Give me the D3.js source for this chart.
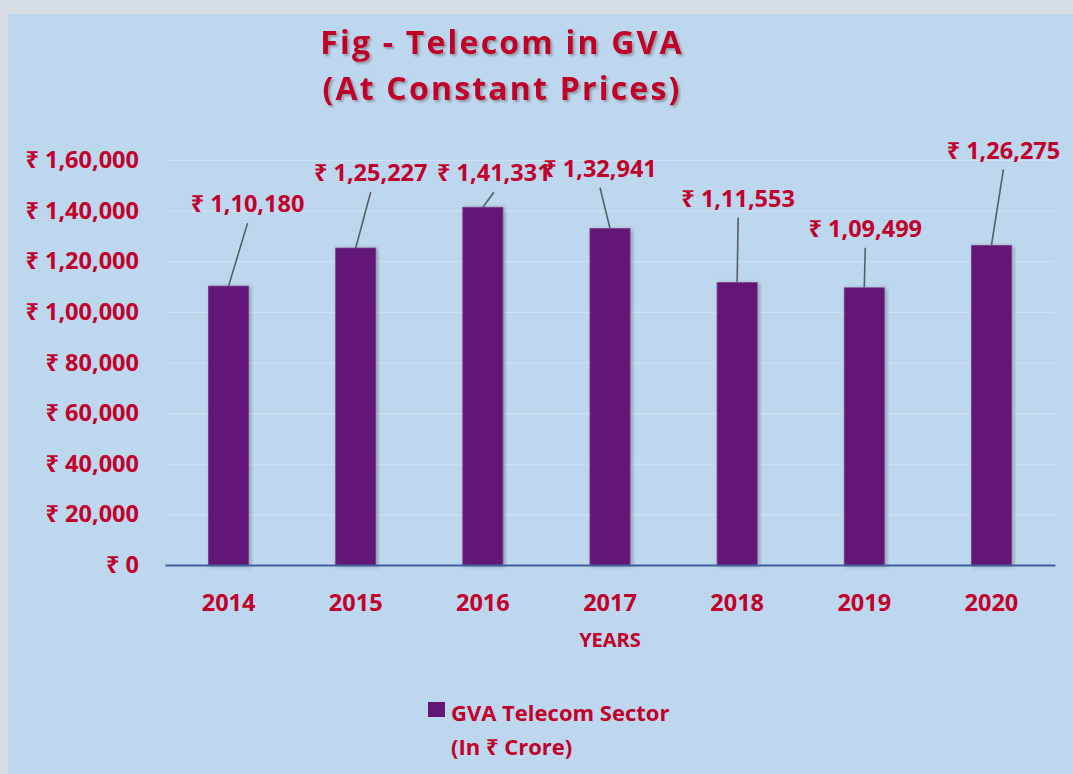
<!DOCTYPE html>
<html>
<head>
<meta charset="utf-8">
<script src="https://cdn.jsdelivr.net/npm/d3@7"></script>
<style>
  body { margin: 0; background: #d6dde5; }
  svg text { font-family: "Open Sans", "Noto Sans", "DejaVu Sans", sans-serif; font-weight: bold; }
</style>
</head>
<body>
<div id="chart"></div>
<script>
// data
var years = ["2014", "2015", "2016", "2017", "2018", "2019", "2020"];
var gva = [110180, 125227, 141331, 132941, 111553, 109499, 126275];
var yTicks = [0, 20000, 40000, 60000, 80000, 100000, 120000, 140000, 160000];

// where each callout label sits relative to its bar top (px)
var labelOffsets = [[19, -82], [15, -75], [11, -34], [-10, -60], [1, -84], [1, -59], [12, -95]];

var svgWidth = 1073;
var svgHeight = 774;
var red = "#c1002b";

var margin = { top: 160, bottom: 209, left: 165, right: 18 };
var width = svgWidth - margin.left - margin.right;
var height = svgHeight - margin.top - margin.bottom;

function inr(n) {
    var s = String(n);
    if (s.length > 3) {
        var rest = s.slice(0, -3);
        s = rest.replace(/\B(?=(\d{2})+(?!\d))/g, ",") + "," + s.slice(-3);
    }
    return "\u20B9 " + s;
}

var svg = d3.select("#chart")
    .append("svg")
    .attr("width", svgWidth)
    .attr("height", svgHeight);

var defs = svg.append("defs");
defs.append("filter").attr("id", "tshadow")
    .append("feDropShadow")
    .attr("dx", 2).attr("dy", 2).attr("stdDeviation", 1.2)
    .attr("flood-color", "#555").attr("flood-opacity", 0.45);
defs.append("filter").attr("id", "bshadow")
    .append("feDropShadow")
    .attr("dx", 2).attr("dy", 1).attr("stdDeviation", 2)
    .attr("flood-color", "#333").attr("flood-opacity", 0.35);

// panel
svg.append("rect")
    .attr("x", 8).attr("y", 14)
    .attr("width", svgWidth - 8).attr("height", svgHeight - 14)
    .attr("fill", "#bdd7ee");

// title
var title = svg.append("text")
    .attr("text-anchor", "middle")
    .attr("fill", red)
    .attr("font-size", "32px")
    .attr("letter-spacing", "2.2px")
    .attr("filter", "url(#tshadow)");
title.append("tspan").attr("x", 502).attr("y", 54).text("Fig - Telecom in GVA");
title.append("tspan").attr("x", 502).attr("y", 100).text("(At Constant Prices)");

var chartGroup = svg.append("g")
    .attr("transform", `translate(${margin.left}, ${margin.top})`);

// scales
var xScale = d3.scaleBand()
    .domain(years)
    .range([0, width])
    .paddingInner(0.685)
    .paddingOuter(0.3425);

var yScale = d3.scaleLinear()
    .domain([0, 160000])
    .range([height, 0]);

// gridlines
chartGroup.append("g")
    .call(d3.axisLeft(yScale).tickValues(yTicks.slice(1)).tickSize(-width).tickFormat(""))
    .call(g => g.select(".domain").remove())
    .selectAll("line")
    .attr("stroke", "#cde1f3")
    .attr("stroke-width", 1.2);

// y axis labels
chartGroup.append("g")
    .call(d3.axisLeft(yScale).tickValues(yTicks).tickSize(0).tickPadding(26).tickFormat(inr))
    .call(g => g.select(".domain").remove())
    .selectAll("text")
    .attr("fill", red)
    .attr("font-size", "23.5px")
    .attr("font-family", null);

// bars
chartGroup.selectAll("rect.bar")
    .data(gva)
    .enter()
    .append("rect")
    .attr("class", "bar")
    .attr("x", (d, i) => xScale(years[i]))
    .attr("y", d => yScale(d))
    .attr("width", xScale.bandwidth())
    .attr("height", d => height - yScale(d))
    .attr("fill", "#621775")
    .attr("stroke", "#7a3a8c")
    .attr("stroke-width", 0.8)
    .attr("filter", "url(#bshadow)");

// x axis
chartGroup.append("g")
    .attr("transform", `translate(0, ${height})`)
    .call(d3.axisBottom(xScale).tickSize(0).tickPadding(29))
    .call(g => g.select(".domain").attr("stroke", "#3e5f98").attr("stroke-width", 2))
    .selectAll("text")
    .attr("fill", red)
    .attr("font-size", "23.5px")
    .attr("font-family", null);

// callout leaders and labels
gva.forEach(function(d, i) {
    var cx = xScale(years[i]) + xScale.bandwidth() / 2;
    var top = yScale(d);
    var lx = cx + labelOffsets[i][0];
    var ly = top + labelOffsets[i][1];
    chartGroup.append("line")
        .attr("x1", lx).attr("y1", ly + 19)
        .attr("x2", cx).attr("y2", top)
        .attr("stroke", "#555f66")
        .attr("stroke-width", 1.6);
    chartGroup.append("text")
        .attr("x", lx).attr("y", ly)
        .attr("dy", "0.35em")
        .attr("text-anchor", "middle")
        .attr("fill", red)
        .attr("font-size", "23.5px")
        .text(inr(d));
});

// axis title
chartGroup.append("text")
    .attr("x", width / 2)
    .attr("y", height + 82)
    .attr("text-anchor", "middle")
    .attr("fill", red)
    .attr("font-size", "20px")
    .text("YEARS");

// legend
svg.append("rect")
    .attr("x", 428).attr("y", 702)
    .attr("width", 17).attr("height", 15)
    .attr("fill", "#621775");
svg.append("text")
    .attr("x", 451).attr("y", 721)
    .attr("fill", red)
    .attr("font-size", "22px")
    .text("GVA Telecom Sector");
svg.append("text")
    .attr("x", 451).attr("y", 755)
    .attr("fill", red)
    .attr("font-size", "22px")
    .text("(In \u20B9 Crore)");
</script>
</body>
</html>
